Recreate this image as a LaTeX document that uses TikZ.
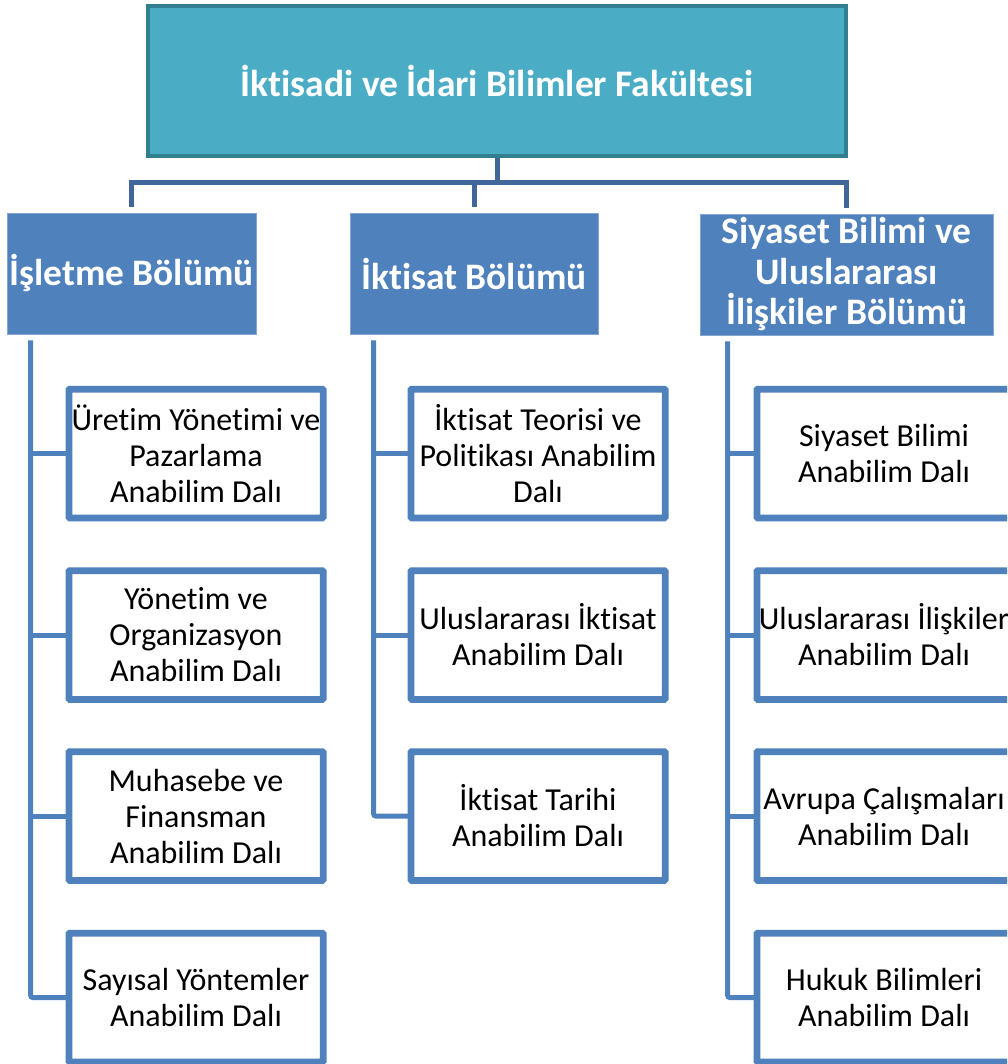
\documentclass[tikz,border=0pt]{standalone}
\usepackage{fontspec}
\setmainfont{Carlito}[Ligatures=NoCommon]
\definecolor{tealfill}{HTML}{4BACC6}
\definecolor{tealdraw}{HTML}{317F8F}
\definecolor{busblue}{HTML}{41669A}
\definecolor{depblue}{HTML}{4F81BD}
\begin{document}
\begin{tikzpicture}[x=1pt,y=-1pt,
  topbox/.style={draw=tealdraw,fill=tealfill,line width=4pt,minimum width=698pt,minimum height=150pt,
    font=\bfseries\fontsize{37.5}{44}\selectfont,text=white,inner sep=0pt},
  depbox/.style={fill=depblue,draw=depblue!70!white,line width=0.6pt,minimum height=121pt,
    font=\bfseries\fontsize{37.4}{40.5}\selectfont,text=white,align=center,inner sep=0pt},
  childbox/.style={draw=depblue,fill=white,line width=4.5pt,minimum width=252pt,minimum height=126.5pt,
    font=\fontsize{32}{36}\selectfont,text=black,align=center,inner sep=0pt,rounded corners=1.5pt},
  busline/.style={draw=busblue,line width=5pt},
  childline/.style={draw=depblue,line width=5pt,rounded corners=2pt}]
\useasboundingbox (0,0) rectangle (1007,1064);
\clip (0,0) rectangle (1007,1064);

\node[topbox] (fak) at (497,81) {İktisadi ve İdari Bilimler Fakültesi};

\node[depbox,minimum width=249pt] (dep1) at (131.5,273.5) {İşletme Bölümü};
\node[depbox,minimum width=248pt] (dep2) at (474,273.5) {İktisat Bölümü};
\node[depbox,minimum width=293pt] (dep3) at (846.5,274.5) {Siyaset Bilimi ve\\Uluslararası\\İlişkiler Bölümü};

% children column 1
\node[childbox] (c11) at (196,453.5) {Üretim Yönetimi ve\\Pazarlama\\Anabilim Dalı};
\node[childbox] (c12) at (196,635) {Yönetim ve\\Organizasyon\\Anabilim Dalı};
\node[childbox] (c13) at (196,816) {Muhasebe ve\\Finansman\\Anabilim Dalı};
\node[childbox] (c14) at (196,997.5) {Sayısal Yöntemler\\Anabilim Dalı};
% column 2
\node[childbox] (c21) at (538,453.5) {İktisat Teorisi ve\\Politikası Anabilim\\Dalı};
\node[childbox] (c22) at (538,635) {Uluslararası İktisat\\Anabilim Dalı};
\node[childbox] (c23) at (538,816) {İktisat Tarihi\\Anabilim Dalı};
% column 3
\node[childbox] (c31) at (884,453.5) {Siyaset Bilimi\\Anabilim Dalı};
\node[childbox] (c32) at (884,635) {Uluslararası İlişkiler\\Anabilim Dalı};
\node[childbox] (c33) at (884,816) {Avrupa Çalışmaları\\Anabilim Dalı};
\node[childbox] (c34) at (884,997.5) {Hukuk Bilimleri\\Anabilim Dalı};

% bus from faculty
\coordinate (bus) at (497,183);
\draw[busline] (fak.south) -- (bus);
\draw[busline,shorten >=6pt] (bus) -| (dep1.north);
\draw[busline,shorten >=6pt] (bus) -| (dep2.north);
\draw[busline,shorten >=6pt] (bus) -| (dep3.north);

% department trunks
\coordinate (t1) at ([xshift=24pt,yshift=-6pt]dep1.south west);
\coordinate (t2) at ([xshift=24pt,yshift=-6pt]dep2.south west);
\coordinate (t3) at ([xshift=28pt,yshift=-6pt]dep3.south west);

\draw[childline] (t1) |- (c14.west);
\foreach \c in {c11,c12,c13} \draw[childline] (t1 |- \c.west) -- (\c.west);
\draw[childline] (t2) |- (c23.west);
\foreach \c in {c21,c22} \draw[childline] (t2 |- \c.west) -- (\c.west);
\draw[childline] (t3) |- (c34.west);
\foreach \c in {c31,c32,c33} \draw[childline] (t3 |- \c.west) -- (\c.west);

% redraw children borders on top of lines
\foreach \c in {c11,c12,c13,c14,c21,c22,c23,c31,c32,c33,c34} \draw[depblue,line width=4.5pt,rounded corners=1.5pt] (\c.north west) rectangle (\c.south east);
\end{tikzpicture}
\end{document}
